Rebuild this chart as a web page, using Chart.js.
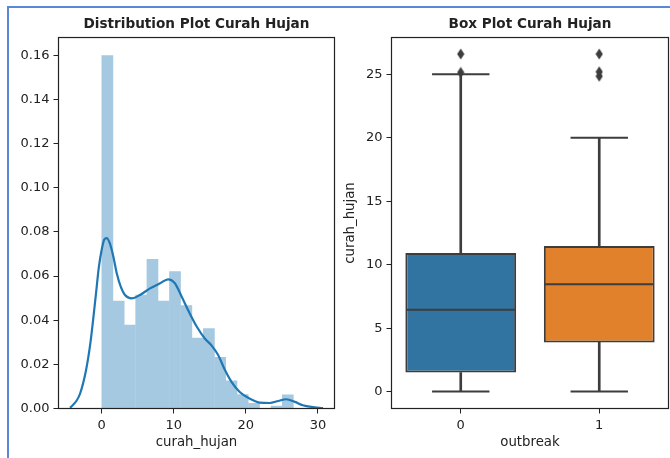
<!DOCTYPE html>
<html>
<head>
<meta charset="utf-8">
<script src="https://cdn.jsdelivr.net/npm/chart.js@4.4.1/dist/chart.umd.min.js"></script>
<style>
html,body{margin:0;padding:0;background:#fff;width:670px;height:458px;overflow:hidden;position:relative;}
#cellframe{position:absolute;left:7px;top:6px;width:720px;height:520px;border-left:2px solid #5a87d6;border-top:2px solid #5a87d6;}
#c1{position:absolute;left:0;top:0;}
#c2{position:absolute;left:340px;top:0;}
</style>
</head>
<body>
<div id="cellframe"></div>
<canvas id="c1" width="340" height="458"></canvas>
<canvas id="c2" width="330" height="458"></canvas>
<script>
// ---------- data: distribution plot ----------
const histBinCenters = [0.78, 2.35, 3.91, 5.48, 7.04, 8.61, 10.17, 11.74, 13.30, 14.87, 16.43, 18.00, 19.56, 21.13, 22.69, 24.26, 25.82];
const histDensity    = [0.160, 0.0488, 0.0379, 0.0515, 0.0677, 0.0488, 0.0621, 0.0468, 0.0320, 0.0363, 0.0233, 0.0127, 0.0065, 0.0025, 0.0, 0.0013, 0.0063];
const kdeX = [-4.4, -3.5, -3.0, -2.2, -1.6, -1.2, -0.8, -0.4, 0.0, 0.35, 0.7, 1.1, 1.6, 2.1, 2.6, 3.2, 4.2, 5.3, 6.7, 8.1, 9.2, 10.15, 11.1, 12.1, 13.2, 14.3, 15.2, 16.15, 17.1, 18.0, 19.15, 20.5, 21.9, 23.3, 24.5, 25.6, 26.8, 27.9, 29.1, 30.7];
const kdeY = [0.0003, 0.0035, 0.0068, 0.017, 0.029, 0.040, 0.052, 0.064, 0.072, 0.0765, 0.0772, 0.075, 0.069, 0.061, 0.0555, 0.0515, 0.0499, 0.0514, 0.0544, 0.0567, 0.0585, 0.0567, 0.0506, 0.0438, 0.037, 0.0317, 0.0287, 0.0242, 0.0174, 0.0121, 0.0075, 0.0045, 0.0027, 0.0025, 0.0034, 0.0042, 0.003, 0.0015, 0.0007, 0.0002];
const distTicksX = [0, 10, 20, 30];
const distTicksY = [0, 0.02, 0.04, 0.06, 0.08, 0.10, 0.12, 0.14, 0.16];

// ---------- data: box plot ----------
const boxCategories = ['0', '1'];
const boxQ1 = [1.5, 3.88];
const boxMedian = [6.45, 8.45];
const boxQ3 = [10.93, 11.48];
const whiskerLow = [0, 0];
const whiskerHigh = [25.0, 20.0];
const outlierCategory = ['0', '0', '1', '1', '1'];
const outlierValue = [25.15, 26.6, 24.85, 25.2, 26.6];
const boxTicksY = [0, 5, 10, 15, 20, 25];
const boxColors = ['#3274a1', '#e1812c'];

Chart.defaults.font.family = "'DejaVu Sans', sans-serif";
Chart.defaults.font.size = 13;
Chart.defaults.color = '#222222';

const INK = '#222222';
const LINE = '#3d3d3d';

const framePlugin = {
  id: 'frame',
  afterDatasetsDraw(chart) {
    const {ctx, chartArea: a} = chart;
    ctx.save();
    ctx.strokeStyle = INK;
    ctx.lineWidth = 1.2;
    ctx.strokeRect(a.left, a.top, a.right - a.left, a.bottom - a.top);
    ctx.restore();
  }
};

function tickSetter(arr) {
  return function (scale) { scale.ticks = arr.map(v => ({value: v})); };
}

function axisGrid() {
  return {display: true, drawOnChartArea: false, drawTicks: true, tickLength: 5, tickColor: INK, tickWidth: 1, offset: false};
}

// ---------- chart 1 ----------
new Chart(document.getElementById('c1'), {
  type: 'bar',
  data: {
    datasets: [
      {
        type: 'line',
        data: kdeX.map((x, i) => ({x: x, y: kdeY[i]})),
        borderColor: '#1f77b4',
        borderWidth: 2.2,
        pointRadius: 0,
        tension: 0.4,
        cubicInterpolationMode: 'monotone',
        fill: false,
        order: 0
      },
      {
        type: 'bar',
        data: histBinCenters.map((x, i) => ({x: x, y: histDensity[i]})),
        backgroundColor: '#a5c9e1',
        borderWidth: 0,
        barPercentage: 1.04,
        categoryPercentage: 1,
        order: 1
      }
    ]
  },
  options: {
    responsive: false,
    animation: false,
    events: [],
    layout: {autoPadding: false, padding: {left: 0, right: 5.5, top: 0, bottom: 0}},
    plugins: {
      legend: {display: false},
      tooltip: {enabled: false},
      title: {
        display: true,
        text: 'Distribution Plot Curah Hujan',
        fullSize: false,
        color: INK,
        font: {size: 13.6, weight: 'bold', lineHeight: 1.2},
        padding: {top: 16.3, bottom: 4.9}
      }
    },
    scales: {
      x: {
        type: 'linear',
        min: -6.0,
        max: 32.3,
        offset: false,
        afterBuildTicks: tickSetter(distTicksX),
        afterFit(s) { s.height = 49.5; },
        ticks: {padding: 4, color: INK, maxRotation: 0, callback: v => String(v)},
        grid: axisGrid(),
        border: {display: false},
        title: {display: true, text: 'curah_hujan', color: INK, font: {size: 13.3}, padding: {top: 0, bottom: 7.2}}
      },
      y: {
        type: 'linear',
        min: 0,
        max: 0.168,
        afterBuildTicks: tickSetter(distTicksY),
        afterFit(s) { s.width = 58.5; },
        ticks: {padding: 4, color: INK, callback: v => Number(v).toFixed(2)},
        grid: axisGrid(),
        border: {display: false}
      }
    }
  },
  plugins: [framePlugin]
});

// ---------- chart 2 ----------
const diamond = (function () {
  const c = document.createElement('canvas');
  c.width = 8; c.height = 12;
  const g = c.getContext('2d');
  g.fillStyle = LINE;
  g.beginPath();
  g.moveTo(4, 0.5); g.lineTo(7.6, 6); g.lineTo(4, 11.5); g.lineTo(0.4, 6);
  g.closePath(); g.fill();
  return c;
})();

function catWidth(chart) {
  const a = chart.chartArea;
  if (!a) return 100;
  return (a.right - a.left) / boxCategories.length;
}

new Chart(document.getElementById('c2'), {
  type: 'bar',
  data: {
    labels: boxCategories,
    datasets: [
      {
        type: 'line',
        data: outlierCategory.map((c, i) => ({x: c, y: outlierValue[i]})),
        showLine: false,
        pointStyle: diamond,
        pointRadius: 5,
        order: 0
      },
      {
        type: 'line',
        data: boxCategories.map((c, i) => ({x: c, y: boxMedian[i]})),
        showLine: false,
        pointStyle: 'line',
        pointRadius: ctx => catWidth(ctx.chart) * 0.8 / 2 - 1,
        pointBorderWidth: 2,
        pointBorderColor: LINE,
        order: 0
      },
      {
        type: 'line',
        data: boxCategories.map((c, i) => ({x: c, y: whiskerLow[i]})).concat(boxCategories.map((c, i) => ({x: c, y: whiskerHigh[i]}))),
        showLine: false,
        pointStyle: 'line',
        pointRadius: ctx => catWidth(ctx.chart) * 0.4 / 2 + 1,
        pointBorderWidth: 2,
        pointBorderColor: LINE,
        order: 1
      },
      {
        type: 'bar',
        data: boxCategories.map((c, i) => [boxQ1[i], boxQ3[i]]),
        backgroundColor: boxColors,
        borderColor: LINE,
        borderWidth: 2,
        borderSkipped: false,
        barPercentage: 0.8,
        categoryPercentage: 1,
        grouped: false,
        order: 2
      },
      {
        type: 'bar',
        data: boxCategories.map((c, i) => [whiskerLow[i], boxQ1[i]]),
        backgroundColor: LINE,
        borderWidth: 0,
        barThickness: 2,
        grouped: false,
        order: 3
      },
      {
        type: 'bar',
        data: boxCategories.map((c, i) => [boxQ3[i], whiskerHigh[i]]),
        backgroundColor: LINE,
        borderWidth: 0,
        barThickness: 2,
        grouped: false,
        order: 3
      }
    ]
  },
  options: {
    responsive: false,
    animation: false,
    events: [],
    layout: {autoPadding: false, padding: {left: 0, right: 1.5, top: 0, bottom: 0}},
    plugins: {
      legend: {display: false},
      tooltip: {enabled: false},
      title: {
        display: true,
        text: 'Box Plot Curah Hujan',
        fullSize: false,
        color: INK,
        font: {size: 13.6, weight: 'bold', lineHeight: 1.2},
        padding: {top: 16.3, bottom: 4.9}
      }
    },
    scales: {
      x: {
        type: 'category',
        offset: true,
        afterFit(s) { s.height = 49.5; },
        ticks: {padding: 4, color: INK, maxRotation: 0},
        grid: axisGrid(),
        border: {display: false},
        title: {display: true, text: 'outbreak', color: INK, font: {size: 13.3}, padding: {top: 0, bottom: 7.2}}
      },
      y: {
        type: 'linear',
        min: -1.33,
        max: 27.9,
        afterBuildTicks: tickSetter(boxTicksY),
        afterFit(s) { s.width = 51.5; },
        ticks: {padding: 4, color: INK, callback: v => String(v)},
        grid: axisGrid(),
        border: {display: false},
        title: {display: true, text: 'curah_hujan', color: INK, font: {size: 13.3}, padding: {top: 2.7, bottom: 0}}
      }
    }
  },
  plugins: [framePlugin]
});
</script>
</body>
</html>
